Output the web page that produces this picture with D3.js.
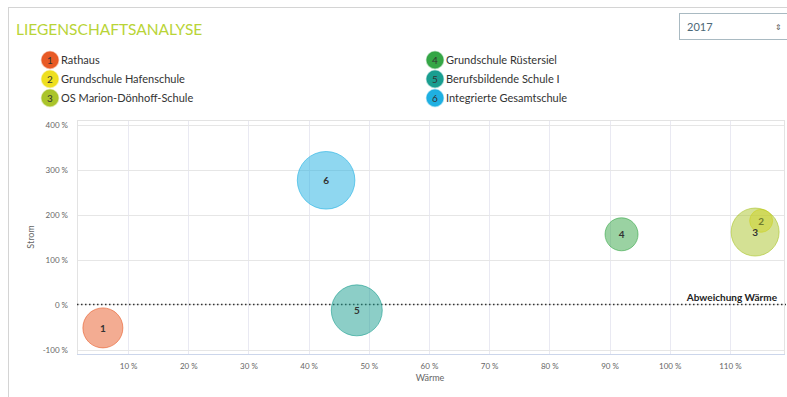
<!DOCTYPE html>
<html>
<head>
<meta charset="utf-8">
<script src="https://cdn.jsdelivr.net/npm/d3@7"></script>
<style>
  body { margin: 0; background: #fff; font-family: Lato, "Open Sans", sans-serif; }
  svg { display: block; }
</style>
</head>
<body>
<script>
// bubble data (Wärme %, Strom %, bubble size)
var ids = [1, 2, 3, 4, 5, 6];
var names = ["Rathaus", "Grundschule Hafenschule", "OS Marion-Dönhoff-Schule",
             "Grundschule Rüstersiel", "Berufsbildende Schule I", "Integrierte Gesamtschule"];
var waerme = [5.8, 115.2, 114.2, 92, 48, 42.9];
var strom = [-52, 186, 161, 156, -13, 276];
var sizes = [400, 132, 576, 272, 650, 830];
var colors = ["#e85a26", "#eedf1e", "#aac42a", "#35a646", "#1a9e90", "#1fb0e2"];
var xTicks = [10, 20, 30, 40, 50, 60, 70, 80, 90, 100, 110];
var yTicks = [-100, 0, 100, 200, 300, 400];
var years = ["2017"];

var width = 787, height = 397;
var plot = { left: 77, right: 784, top: 120, bottom: 354 };

var svg = d3.select("body")
    .append("svg")
    .attr("width", width)
    .attr("height", height);

// card frame
svg.append("rect")
    .attr("x", 8.5).attr("y", 7.5)
    .attr("width", 800).attr("height", 420)
    .attr("fill", "#fff")
    .attr("stroke", "#d4d4d4");

// title
svg.append("text")
    .attr("x", 16).attr("y", 35)
    .attr("fill", "#b9d437")
    .attr("font-size", "15.5px")
    .text("LIEGENSCHAFTSANALYSE");

// year select box
var sel = svg.append("g").attr("transform", "translate(679,13)");
sel.append("rect")
    .attr("x", 0.5).attr("y", 0.5)
    .attr("width", 110).attr("height", 26)
    .attr("fill", "#fff")
    .attr("stroke", "#a9bac2");
sel.append("text")
    .attr("x", 8).attr("y", 17.5)
    .attr("fill", "#4c6877")
    .attr("font-size", "11px")
    .text(years[0]);
sel.append("text")
    .attr("x", 96).attr("y", 17)
    .attr("fill", "#555")
    .attr("font-size", "8px")
    .text("\u21D5");

// legend, two columns of three
var legend = svg.append("g")
    .selectAll("g")
    .data(ids)
    .enter().append("g")
    .attr("transform", (d, i) => `translate(${i < 3 ? 50 : 435},${60 + (i % 3) * 19})`);
legend.append("circle")
    .attr("r", 8.5)
    .attr("fill", (d, i) => colors[i])
    .attr("stroke", (d, i) => colors[i])
    .attr("stroke-opacity", 0.4)
    .attr("stroke-width", 1.5);
legend.append("text")
    .attr("text-anchor", "middle")
    .attr("y", 3.8)
    .attr("font-size", "10px")
    .attr("fill", "#333")
    .text(d => d);
legend.append("text")
    .attr("x", 11).attr("y", 3.8)
    .attr("font-size", "11px")
    .attr("fill", "#333")
    .text((d, i) => names[i]);

// scales
var x = d3.scaleLinear().domain([1.5, 119]).range([plot.left, plot.right]);
var y = d3.scaleLinear().domain([-110, 410]).range([plot.bottom, plot.top]);
var r = d3.scaleSqrt().domain([0, 830]).range([0, 28.8]);

// gridlines
svg.append("g")
    .selectAll("line")
    .data(xTicks)
    .enter().append("line")
    .attr("x1", d => Math.round(x(d)) + 0.5).attr("x2", d => Math.round(x(d)) + 0.5)
    .attr("y1", plot.top).attr("y2", plot.bottom)
    .attr("stroke", "#e9e9f2");
svg.append("g")
    .selectAll("line")
    .data(yTicks)
    .enter().append("line")
    .attr("x1", plot.left).attr("x2", plot.right)
    .attr("y1", d => Math.round(y(d)) + 0.5).attr("y2", d => Math.round(y(d)) + 0.5)
    .attr("stroke", "#e6e6e6");

// plot border
svg.append("rect")
    .attr("x", plot.left + 0.5).attr("y", plot.top + 0.5)
    .attr("width", plot.right - plot.left).attr("height", plot.bottom - plot.top)
    .attr("fill", "none")
    .attr("stroke", "#e3e3e3");
svg.append("line")
    .attr("x1", plot.left).attr("x2", plot.right + 1)
    .attr("y1", plot.bottom + 0.5).attr("y2", plot.bottom + 0.5)
    .attr("stroke", "#ccd6eb");

// axes (labels only, no tick marks)
var xAxis = svg.append("g")
    .attr("transform", `translate(0,${plot.bottom + 6})`)
    .call(d3.axisBottom(x).tickValues(xTicks).tickSize(0).tickFormat(d => d + " %"));
var yAxis = svg.append("g")
    .attr("transform", `translate(${plot.left - 9},0)`)
    .call(d3.axisLeft(y).tickValues(yTicks).tickSize(0).tickFormat(d => d + " %"));
[xAxis, yAxis].forEach(a => {
    a.select(".domain").remove();
    a.selectAll("text")
        .attr("fill", "#666")
        .attr("font-size", "8px")
        .attr("font-family", "Lato, sans-serif");
});
yAxis.selectAll("text").attr("x", 0);

// axis titles
svg.append("text")
    .attr("transform", "translate(34,237) rotate(-90)")
    .attr("text-anchor", "middle")
    .attr("font-size", "9px")
    .attr("fill", "#666")
    .text("Strom");
svg.append("text")
    .attr("x", 430).attr("y", 381)
    .attr("text-anchor", "middle")
    .attr("font-size", "9px")
    .attr("fill", "#666")
    .text("Wärme");

// zero line
svg.append("line")
    .attr("x1", plot.left).attr("x2", plot.right + 2)
    .attr("y1", y(0)).attr("y2", y(0))
    .attr("stroke", "#333")
    .attr("stroke-width", 1.5)
    .attr("stroke-dasharray", "1.5,2.5");
svg.append("text")
    .attr("x", 777).attr("y", y(0) - 3.5)
    .attr("text-anchor", "end")
    .attr("font-size", "10px")
    .attr("font-weight", "bold")
    .attr("fill", "#222")
    .text("Abweichung Wärme");

// bubbles
var bubbles = svg.append("g")
    .selectAll("g")
    .data(ids)
    .enter().append("g")
    .attr("transform", (d, i) => `translate(${x(waerme[i])},${y(strom[i])})`);
bubbles.append("circle")
    .attr("r", (d, i) => r(sizes[i]))
    .attr("fill", (d, i) => colors[i])
    .attr("fill-opacity", 0.5)
    .attr("stroke", (d, i) => colors[i])
    .attr("stroke-opacity", 0.6);
bubbles.append("text")
    .attr("text-anchor", "middle")
    .attr("y", 4)
    .attr("font-size", "10px")
    .attr("font-weight", "bold")
    .attr("fill", "#333")
    .text(d => d);
</script>
</body>
</html>
